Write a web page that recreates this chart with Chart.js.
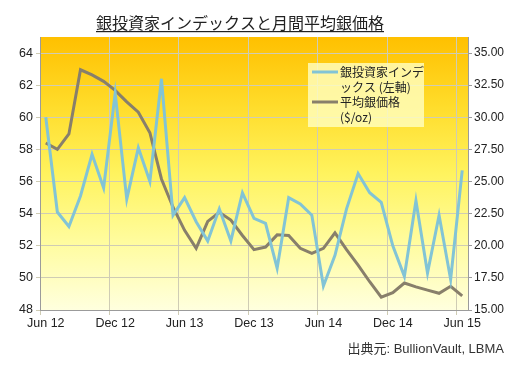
<!DOCTYPE html>
<html>
<head>
<meta charset="utf-8">
<script src="https://cdn.jsdelivr.net/npm/chart.js@4/dist/chart.umd.min.js"></script>
<style>
  html, body { margin: 0; padding: 0; background: #fff; }
  #wrap { width: 523px; height: 366px; }
</style>
</head>
<body>
<div id="wrap"><canvas id="silverChart" width="523" height="366"></canvas></div>
<script>
// chart data
var months = [
  'Jun 12','Jul 12','Aug 12','Sep 12','Oct 12','Nov 12','Dec 12',
  'Jan 13','Feb 13','Mar 13','Apr 13','May 13','Jun 13',
  'Jul 13','Aug 13','Sep 13','Oct 13','Nov 13','Dec 13',
  'Jan 14','Feb 14','Mar 14','Apr 14','May 14','Jun 14',
  'Jul 14','Aug 14','Sep 14','Oct 14','Nov 14','Dec 14',
  'Jan 15','Feb 15','Mar 15','Apr 15','May 15','Jun 15'
];
var investorIndex = [
  60.0, 54.1, 53.2, 55.1, 57.7, 55.6, 61.5,
  54.9, 58.1, 56.0, 62.4, 53.9, 55.0,
  53.5, 52.3, 54.3, 52.3, 55.3, 53.7,
  53.4, 50.6, 55.0, 54.6, 53.9, 49.5,
  51.4, 54.3, 56.5, 55.3, 54.7, 52.0,
  50.1, 54.8, 50.3, 53.9, 49.9, 56.7
];
var silverPrice = [
  28.0, 27.5, 28.7, 33.7, 33.3, 32.8, 32.1,
  31.2, 30.4, 28.8, 25.2, 23.0, 21.2,
  19.8, 21.9, 22.6, 22.0, 20.8, 19.7,
  19.9, 20.85, 20.8, 19.8, 19.4, 19.8,
  21.0, 19.7, 18.5, 17.2, 16.0, 16.35,
  17.1, 16.8, 16.55, 16.3, 16.85, 16.1
];
var leftTicks = [48, 50, 52, 54, 56, 58, 60, 62, 64];
var rightTicks = [15, 17.5, 20, 22.5, 25, 27.5, 30, 32.5, 35];
var seriesNames = ['銀投資家インデックス (左軸)', '平均銀価格 ($/oz)'];
var titleText = '銀投資家インデックスと月間平均銀価格';
var sourceText = '出典元: BullionVault, LBMA';

var latinFont = '"Liberation Sans", Arial, "Noto Sans CJK JP", sans-serif';
var jpFont = '"Noto Sans CJK JP", "Liberation Sans", sans-serif';

// gradient behind the plot area
var bgPlugin = {
  id: 'bg',
  beforeDraw: function (chart) {
    var ctx = chart.ctx, a = chart.chartArea;
    ctx.save();
    ctx.fillStyle = '#fff';
    ctx.fillRect(0, 0, chart.width, chart.height);
    var g = ctx.createLinearGradient(0, a.top, 0, a.bottom);
    g.addColorStop(0, '#FFC000');
    g.addColorStop(0.25, '#FFDC2A');
    g.addColorStop(0.5, '#FFF35E');
    g.addColorStop(0.75, '#FFFC9E');
    g.addColorStop(1, '#FFFFDE');
    ctx.fillStyle = g;
    ctx.fillRect(a.left, a.top, a.right - a.left, a.bottom - a.top);
    ctx.restore();
  }
};

function wrapText(ctx, text, maxW) {
  var lines = [], cur = '';
  for (var i = 0; i < text.length; i++) {
    var test = cur + text[i];
    if (ctx.measureText(test).width > maxW && cur.length) {
      var sp = cur.lastIndexOf(' ');
      if (sp > 0 && lines.length === 0) {
        lines.push(cur.slice(0, sp));
        cur = cur.slice(sp + 1) + text[i];
      } else {
        lines.push(cur);
        cur = text[i];
      }
    } else {
      cur = test;
    }
  }
  if (cur) lines.push(cur);
  return lines;
}

// title, legend and source text
var textPlugin = {
  id: 'texts',
  afterDraw: function (chart) {
    var ctx = chart.ctx;
    ctx.save();
    // title
    ctx.font = '16px ' + jpFont;
    ctx.fillStyle = '#222';
    ctx.textAlign = 'center';
    ctx.textBaseline = 'alphabetic';
    var tw = ctx.measureText(titleText).width;
    ctx.fillText(titleText, 240, 29);
    ctx.fillRect(240 - tw / 2, 31, tw, 1.2);

    // legend
    ctx.fillStyle = 'rgba(255,255,195,0.8)';
    ctx.fillRect(308, 63, 116, 64);
    ctx.font = '12px ' + jpFont;
    ctx.textAlign = 'left';
    ctx.textBaseline = 'middle';
    var y = 72;
    chart.data.datasets.forEach(function (ds) {
      ctx.strokeStyle = ds.borderColor;
      ctx.lineWidth = 3;
      ctx.beginPath();
      ctx.moveTo(312, y);
      ctx.lineTo(338, y);
      ctx.stroke();
      ctx.fillStyle = '#222';
      var lines = wrapText(ctx, ds.label, 85);
      lines.forEach(function (ln, k) {
        ctx.fillText(ln, 340, y + k * 15);
      });
      y += lines.length * 15;
    });

    // source
    ctx.font = '13px ' + latinFont;
    ctx.fillStyle = '#333';
    ctx.textAlign = 'right';
    ctx.textBaseline = 'middle';
    ctx.fillText(sourceText, 504, 349);
    ctx.restore();
  }
};

var gridGray = '#cfccb4';
var axisGray = '#9b9b9b';

new Chart(document.getElementById('silverChart'), {
  type: 'line',
  data: {
    labels: months,
    datasets: [
      {
        label: seriesNames[0],
        data: investorIndex,
        yAxisID: 'y',
        borderColor: '#82C4D6',
        borderWidth: 3,
        pointRadius: 0,
        tension: 0,
        fill: false
      },
      {
        label: seriesNames[1],
        data: silverPrice,
        yAxisID: 'y2',
        borderColor: '#887F6B',
        borderWidth: 3,
        pointRadius: 0,
        tension: 0,
        fill: false
      }
    ]
  },
  options: {
    responsive: false,
    animation: false,
    devicePixelRatio: 1,
    layout: { padding: { left: 0, right: 0, top: 37, bottom: 34 } },
    plugins: {
      legend: { display: false },
      title: { display: false },
      tooltip: { enabled: false }
    },
    scales: {
      x: {
        type: 'category',
        offset: true,
        grid: {
          offset: true,
          tickLength: 5,
          color: function (c) { return c.index % 6 === 0 ? gridGray : 'rgba(0,0,0,0)'; }
        },
        border: { color: axisGray },
        ticks: {
          autoSkip: false,
          maxRotation: 0,
          minRotation: 0,
          padding: 1,
          color: '#222',
          font: { size: 12.5, family: latinFont },
          callback: function (v, i) { return i % 6 === 0 ? months[i] : ''; }
        },
        afterFit: function (s) { s.height = 22; }
      },
      y: {
        position: 'left',
        min: 48,
        max: 65,
        afterBuildTicks: function (s) { s.ticks = leftTicks.map(function (v) { return { value: v }; }); },
        grid: { color: gridGray, tickLength: 4 },
        border: { color: axisGray },
        ticks: { color: '#222', padding: 3, font: { size: 12.5, family: latinFont } },
        afterFit: function (s) { s.width = 40; }
      },
      y2: {
        position: 'right',
        min: 15,
        max: 36.25,
        afterBuildTicks: function (s) { s.ticks = rightTicks.map(function (v) { return { value: v }; }); },
        grid: { drawOnChartArea: false, color: axisGray, tickLength: 4 },
        border: { color: axisGray },
        ticks: {
          color: '#222',
          padding: 2,
          font: { size: 12, family: latinFont },
          callback: function (v) { return Number(v).toFixed(2); }
        },
        afterFit: function (s) { s.width = 55; }
      }
    }
  },
  plugins: [bgPlugin, textPlugin]
});
</script>
</body>
</html>
